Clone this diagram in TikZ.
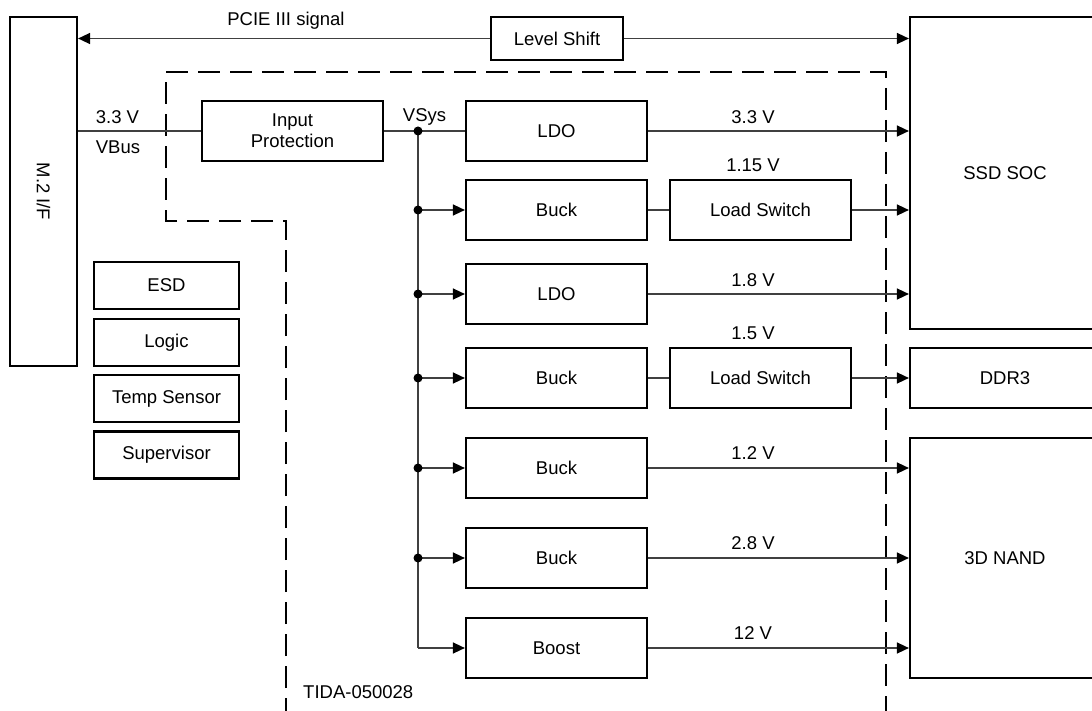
\documentclass[tikz,border=0pt]{standalone}
\usepackage{fontspec}
\setmainfont{Liberation Sans}
\usetikzlibrary{arrows.meta}
\tikzset{
  box/.style={draw=black, line width=2.2pt, rectangle, inner sep=0pt, align=center,
    font=\fontsize{18.5}{21}\selectfont},
  conn/.style={draw=black!75, line width=1.5pt},
  arr/.style={conn, -{Triangle[length=12pt,width=11pt,color=black,fill=black]}},
  lbl/.style={font=\fontsize{18.5}{21}\selectfont, inner sep=0pt},
  dot/.style={circle, fill=black, inner sep=0pt, minimum size=9pt},
  boundary/.style={draw=black, line width=2.5pt, dash pattern=on 22pt off 10pt}
}
\begin{document}
\begin{tikzpicture}[x=1pt,y=-1pt]
\useasboundingbox (0,0) rectangle (1092,711);
\clip (0,0) rectangle (1092,711);

% left interface
\node[box, minimum width=67pt, minimum height=349pt] (m2) at (43.5,191.5) {};
\node[lbl, rotate=-90] (m2t) at (m2.center) {M.2 I/F};

% top signal
\node[box, minimum width=132pt, minimum height=43pt] (level) at (557,38.5) {Level Shift};
\node[lbl] (pcie) at (286,21) {PCIE III signal};

% right loads
\node[box, minimum width=190pt, minimum height=312pt] (ssd) at (1005,173) {SSD SOC};
\node[box, minimum width=190pt, minimum height=60pt] (ddr) at (1005,378) {DDR3};
\node[box, minimum width=190pt, minimum height=240pt] (nand) at (1005,558) {3D NAND};

% input protection
\node[box, minimum width=181pt, minimum height=60pt] (inprot) at (292.5,131) {Input\\Protection};

% converters
\node[box, minimum width=181pt, minimum height=60pt] (ldoa) at (556.5,131) {LDO};
\node[box, minimum width=181pt, minimum height=60pt] (bucka) at (556.5,210) {Buck};
\node[box, minimum width=181pt, minimum height=60pt] (ldob) at (556.5,294) {LDO};
\node[box, minimum width=181pt, minimum height=60pt] (buckb) at (556.5,378) {Buck};
\node[box, minimum width=181pt, minimum height=60pt] (buckc) at (556.5,468) {Buck};
\node[box, minimum width=181pt, minimum height=60pt] (buckd) at (556.5,558) {Buck};
\node[box, minimum width=181pt, minimum height=60pt] (boost) at (556.5,648) {Boost};

\node[box, minimum width=181pt, minimum height=60pt] (lsa) at (760.5,210) {Load Switch};
\node[box, minimum width=181pt, minimum height=60pt] (lsb) at (760.5,378) {Load Switch};

% small blocks
\node[box, minimum width=145pt, minimum height=47pt] (esd) at (166.5,285.5) {ESD};
\node[box, minimum width=145pt, minimum height=47pt] (logic) at (166.5,342.5) {Logic};
\node[box, minimum width=145pt, minimum height=47pt] (temp) at (166.5,398.5) {Temp Sensor};
\node[box, minimum width=145pt, minimum height=47pt] (sup) at (166.5,455) {Supervisor};

% boundary
\draw[boundary] (286,720) -- (286,221) -- (166,221) -- (166,72) -- (886,72) -- (886,720);
\node[lbl, anchor=west] (tida) at (303,692) {TIDA-050028};

% PCIE connectors
\draw[arr] (level.west) -- (m2.east |- level.west);
\draw[arr] (level.east) -- (ssd.west |- level.east);

% input
\draw[conn] (m2.east |- inprot.west) -- (inprot.west);
\node[lbl] (v33in) at (117.5,117) {3.3 V};
\node[lbl] (vbus) at (118,147) {VBus};

% VSys bus
\coordinate (j0) at (418,131);
\coordinate (jend) at (418,648);
\draw[conn] (inprot.east) -- (ldoa.west);
\draw[conn] (j0) -- (jend);
\draw[arr] (jend) -- (boost.west);
\node[dot] (d0) at (j0) {};
\node[lbl] (vsys) at (424.5,117) {VSys};

\foreach \b in {bucka,ldob,buckb,buckc,buckd}{
  \draw[arr] (j0 |- \b.west) -- (\b.west);
  \node[dot] at (j0 |- \b.west) {};
}

% outputs
\draw[arr] (ldoa.east) -- (ssd.west |- ldoa.east);
\node[lbl] (o1) at (753,117) {3.3 V};
\draw[conn] (bucka.east) -- (lsa.west);
\draw[arr] (lsa.east) -- (ssd.west |- lsa.east);
\node[lbl] (o2) at (753,165) {1.15 V};
\draw[arr] (ldob.east) -- (ssd.west |- ldob.east);
\node[lbl] (o3) at (753,280) {1.8 V};
\draw[conn] (buckb.east) -- (lsb.west);
\draw[arr] (lsb.east) -- (ddr.west);
\node[lbl] (o4) at (753,333) {1.5 V};
\draw[arr] (buckc.east) -- (nand.west |- buckc.east);
\node[lbl] (o5) at (753,453) {1.2 V};
\draw[arr] (buckd.east) -- (nand.west |- buckd.east);
\node[lbl] (o6) at (753,543) {2.8 V};
\draw[arr] (boost.east) -- (nand.west |- boost.east);
\node[lbl] (o7) at (753,633) {12 V};
\end{tikzpicture}
\end{document}
